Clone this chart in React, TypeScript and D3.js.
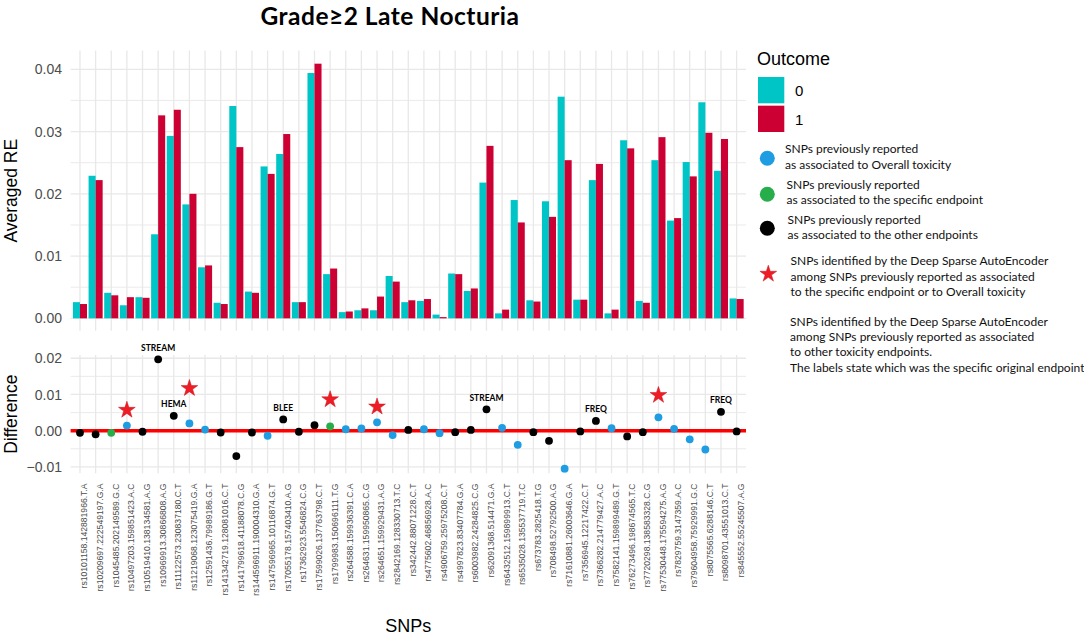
import React from "react";
import * as d3 from "d3";

const snps = [
  "rs10101158.142881966.T.A", "rs10209697.222549197.G.A", "rs1045485.202149589.G.C",
  "rs10497203.159851423.A.C", "rs10519410.138134581.A.G", "rs10969913.30866808.A.G",
  "rs11122573.230837180.C.T", "rs11219068.123075419.G.A", "rs12591436.79989186.G.T",
  "rs141342719.128081016.C.T", "rs141799618.41188078.C.G", "rs144596911.190004310.G.A",
  "rs147596965.10116874.G.T", "rs17055178.157403410.A.G", "rs17362923.5546824.C.G",
  "rs17599026.137763798.C.T", "rs1799983.150696111.T.G", "rs264588.159936391.C.A",
  "rs264631.159950865.C.G", "rs264651.159929431.A.G", "rs2842169.128330713.T.C",
  "rs342442.88071228.C.T", "rs4775602.46856928.A.C", "rs4906759.25975208.C.T",
  "rs4997823.83407784.G.A", "rs6003982.24284825.C.G", "rs62091368.514471.G.A",
  "rs6432512.159899913.C.T", "rs6535028.135537719.T.C", "rs673783.2825418.T.G",
  "rs708498.52792500.A.G", "rs71610881.26003646.G.A", "rs7356945.12217422.C.T",
  "rs7366282.214779427.A.C", "rs7582141.159899489.G.T", "rs76273496.198674565.T.C",
  "rs7720298.138583328.C.G", "rs77530448.175594275.A.G", "rs7829759.3147359.A.C",
  "rs79604958.75929991.G.C", "rs8075565.6288146.C.T", "rs8098701.43551013.C.T",
  "rs845552.55245507.A.G",
];

const outcome0 = [
  0.0026, 0.0229, 0.0041, 0.0021, 0.0034, 0.0135, 0.0293, 0.0183, 0.0082, 0.0025,
  0.0341, 0.0043, 0.0244, 0.0264, 0.0026, 0.0394, 0.0071, 0.0010, 0.0013, 0.0013,
  0.0068, 0.0026, 0.0028, 0.0006, 0.0072, 0.0044, 0.0218, 0.0008, 0.0190, 0.0029,
  0.0188, 0.0356, 0.0030, 0.0222, 0.0008, 0.0286, 0.0028, 0.0254, 0.0157, 0.0251,
  0.0347, 0.0237, 0.0032,
];

const outcome1 = [
  0.0023, 0.0222, 0.0037, 0.0034, 0.0033, 0.0326, 0.0335, 0.0200, 0.0085, 0.0023,
  0.0275, 0.0041, 0.0232, 0.0296, 0.0026, 0.0409, 0.0080, 0.0011, 0.0016, 0.0035,
  0.0059, 0.0029, 0.0031, 0.0002, 0.0071, 0.0048, 0.0277, 0.0014, 0.0154, 0.0027,
  0.0163, 0.0254, 0.0030, 0.0248, 0.0014, 0.0273, 0.0025, 0.0291, 0.0161, 0.0228,
  0.0298, 0.0288, 0.0031,
];

const difference = [
  -0.0006, -0.0010, -0.0006, 0.0014, -0.0003, 0.0197, 0.0041, 0.0020, 0.0003, -0.0005,
  -0.0070, -0.0005, -0.0014, 0.0031, -0.0003, 0.0015, 0.0012, 0.0004, 0.0006, 0.0023,
  -0.0012, 0.0002, 0.0004, -0.0007, -0.0004, 0.0002, 0.0059, 0.0008, -0.0039, -0.0004,
  -0.0028, -0.0105, -0.0002, 0.0027, 0.0007, -0.0016, -0.0004, 0.0037, 0.0005, -0.0024,
  -0.0052, 0.0052, -0.0002,
];

// O = overall toxicity, S = specific endpoint, X = other endpoints
const snpGroup = [
  "X", "X", "S", "O", "X", "X", "X", "O", "O", "X",
  "X", "X", "O", "X", "X", "X", "S", "O", "O", "O",
  "O", "X", "O", "O", "X", "X", "X", "O", "O", "X",
  "X", "O", "X", "X", "O", "X", "X", "O", "O", "O",
  "O", "X", "X",
];

const starSnps = [
  "rs10497203.159851423.A.C", "rs11219068.123075419.G.A", "rs1799983.150696111.T.G",
  "rs264651.159929431.A.G", "rs77530448.175594275.A.G",
];
const starValues = [0.0057, 0.0117, 0.0086, 0.0066, 0.0098];

const labelSnps = [
  "rs10969913.30866808.A.G", "rs11122573.230837180.C.T", "rs17055178.157403410.A.G",
  "rs62091368.514471.G.A", "rs7366282.214779427.A.C", "rs8098701.43551013.C.T",
];
const labelTexts = ["STREAM", "HEMA", "BLEE", "STREAM", "FREQ", "FREQ"];

const reTicks = [0, 0.01, 0.02, 0.03, 0.04];
const reMinor = [0.005, 0.015, 0.025, 0.035];
const diffTicks = [-0.01, 0, 0.01, 0.02];
const diffMinor = [-0.005, 0.005, 0.015];

const outcomeLabels = ["0", "1"];
const legendTexts = [
  ["SNPs previously reported", "as associated to Overall toxicity"],
  ["SNPs previously reported", "as associated to the specific endpoint"],
  ["SNPs previously reported", "as associated to the other endpoints"],
  ["SNPs identified by the Deep Sparse AutoEncoder", "among SNPs previously reported as associated", "to the specific endpoint or to Overall toxicity"],
  ["SNPs identified by the Deep Sparse AutoEncoder", "among SNPs previously reported as associated", "to other toxicity endpoints.", "The labels state which was the specific original endpoint"],
];

const COL0 = "#00C5C7";
const COL1 = "#CC0033";
const groupColor: Record<string, string> = { O: "#1E9DE3", S: "#27AE4B", X: "#000000" };
const STAR = "#EE1C25";
const GRID = "#E8E8E8";
const AXIS_TXT = "#4D4D4D";
const SANS = "Liberation Sans";
const CAL = "Lato, 'Open Sans', sans-serif";

export default function App() {
  const W = 1084, H = 637;
  const left = 70.6, right = 746;
  const x = d3.scalePoint<string>().domain(snps).range([left, right]).padding(0.6);
  const step = x.step();
  const bw = step * 0.45;

  const top1 = 50.6, bot1 = 330.8;
  const y1 = d3.scaleLinear().domain([-0.002, 0.043]).range([bot1, top1]);
  const top2 = 355, bot2 = 473.3;
  const y2 = d3.scaleLinear().domain([-0.01177, 0.0209]).range([bot2, top2]);

  const fmt = d3.format(".2f");
  const star = d3.symbol().type(d3.symbolStar).size(87)();

  const legendRowY = [158.3, 194.3, 228.3, 274];
  const legendBase = [[153.3, 169.3], [189, 204.3], [224, 239.3], [265, 280.7, 296], [326, 341, 356, 371.7]];
  const legendTextX = [785, 786.5, 787.5, 790.5, 790];

  return (
    <svg width={W} height={H} style={{ position: "absolute", left: 0, top: 0, display: "block", background: "#fff" }}>
      <text x={390} y={24.5} textAnchor="middle" fontFamily={CAL} fontWeight={700} fontSize={24.5} letterSpacing={0.5} fill="#000">
        Grade≥2 Late Nocturia
      </text>

      {/* ---------- bar panel ---------- */}
      <g>
        {reMinor.map((v) => (
          <line key={"m" + v} x1={left} x2={right} y1={y1(v)} y2={y1(v)} stroke={GRID} strokeWidth={0.9} />
        ))}
        {reTicks.map((v) => (
          <line key={"M" + v} x1={left} x2={right} y1={y1(v)} y2={y1(v)} stroke={GRID} strokeWidth={1.3} />
        ))}
        {snps.map((s) => (
          <line key={"v" + s} x1={x(s)} x2={x(s)} y1={top1} y2={bot1} stroke={GRID} strokeWidth={1.3} />
        ))}
        {snps.map((s, i) => (
          <g key={"b" + s}>
            <rect x={(x(s) as number) - bw} y={y1(outcome0[i])} width={bw} height={y1(0) - y1(outcome0[i])} fill={COL0} />
            <rect x={x(s) as number} y={y1(outcome1[i])} width={bw} height={y1(0) - y1(outcome1[i])} fill={COL1} />
          </g>
        ))}
        {reTicks.map((v) => (
          <text key={"t" + v} x={62} y={y1(v)} dy="0.36em" textAnchor="end" fontFamily={SANS} fontSize={14} fill={AXIS_TXT}>
            {fmt(v)}
          </text>
        ))}
        <text transform={`translate(16.5, ${(top1 + bot1) / 2}) rotate(-90)`} textAnchor="middle" fontFamily={SANS} fontSize={17.5} fill="#000">
          Averaged RE
        </text>
      </g>

      {/* ---------- difference panel ---------- */}
      <g>
        {diffMinor.map((v) => (
          <line key={"m" + v} x1={left} x2={right} y1={y2(v)} y2={y2(v)} stroke={GRID} strokeWidth={0.9} />
        ))}
        {diffTicks.map((v) => (
          <line key={"M" + v} x1={left} x2={right} y1={y2(v)} y2={y2(v)} stroke={GRID} strokeWidth={1.3} />
        ))}
        {snps.map((s) => (
          <line key={"v" + s} x1={x(s)} x2={x(s)} y1={top2} y2={bot2} stroke={GRID} strokeWidth={1.3} />
        ))}
        <line x1={left} x2={right} y1={y2(0)} y2={y2(0)} stroke="#FF0000" strokeWidth={3.6} />
        {snps.map((s, i) => (
          <circle key={"p" + s} cx={x(s)} cy={y2(difference[i])} r={3.9} fill={groupColor[snpGroup[i]]} />
        ))}
        {starSnps.map((s, i) => (
          <path key={"s" + s} d={star as string} transform={`translate(${x(s)}, ${y2(starValues[i])})`} fill={STAR} stroke="#C8141C" strokeWidth={0.5} />
        ))}
        {labelSnps.map((s, i) => (
          <text key={"l" + i} x={x(s)} y={y2(difference[snps.indexOf(s)]) - 8.5} textAnchor="middle" fontFamily={CAL} fontWeight={700} fontSize={8.5} fill="#000">
            {labelTexts[i]}
          </text>
        ))}
        {diffTicks.map((v) => (
          <text key={"t" + v} x={62} y={y2(v)} dy="0.36em" textAnchor="end" fontFamily={SANS} fontSize={14} fill={AXIS_TXT}>
            {fmt(v)}
          </text>
        ))}
        <text transform={`translate(16.5, ${(top2 + bot2) / 2}) rotate(-90)`} textAnchor="middle" fontFamily={SANS} fontSize={17.5} fill="#000">
          Difference
        </text>
      </g>

      {/* ---------- x axis ---------- */}
      {snps.map((s) => (
        <text key={"x" + s} transform={`translate(${x(s)}, 483.5) rotate(-90)`} dy={7.4} textAnchor="end" fontFamily={SANS} fontSize={8.6} fill={AXIS_TXT}>
          {s}
        </text>
      ))}
      <text x={(left + right) / 2} y={631.5} textAnchor="middle" fontFamily={SANS} fontSize={18} fill="#000">
        SNPs
      </text>

      {/* ---------- legend ---------- */}
      <text x={757} y={65} fontFamily={SANS} fontSize={18} fill="#000">Outcome</text>
      {[COL0, COL1].map((c, i) => (
        <rect key={"k" + i} x={758} y={77 + i * 28.7} width={26.3} height={26.3} fill={c} />
      ))}
      {outcomeLabels.map((l, i) => (
        <text key={"kl" + i} x={795} y={90.5 + i * 28.7} dy="0.36em" fontFamily={SANS} fontSize={15} fill="#000">{l}</text>
      ))}
      {["O", "S", "X"].map((g, i) => (
        <circle key={"lc" + g} cx={767.3} cy={legendRowY[i]} r={7.5} fill={groupColor[g]} />
      ))}
      <path d={star as string} transform={`translate(768.3, ${legendRowY[3]})`} fill={STAR} stroke="#C8141C" strokeWidth={0.5} />
      {legendTexts.map((lines, i) =>
        lines.map((t, j) => (
          <text key={`lt${i}-${j}`} x={legendTextX[i]} y={legendBase[i][j]} fontFamily={CAL} fontSize={12} fill="#111">{t}</text>
        ))
      )}
    </svg>
  );
}
